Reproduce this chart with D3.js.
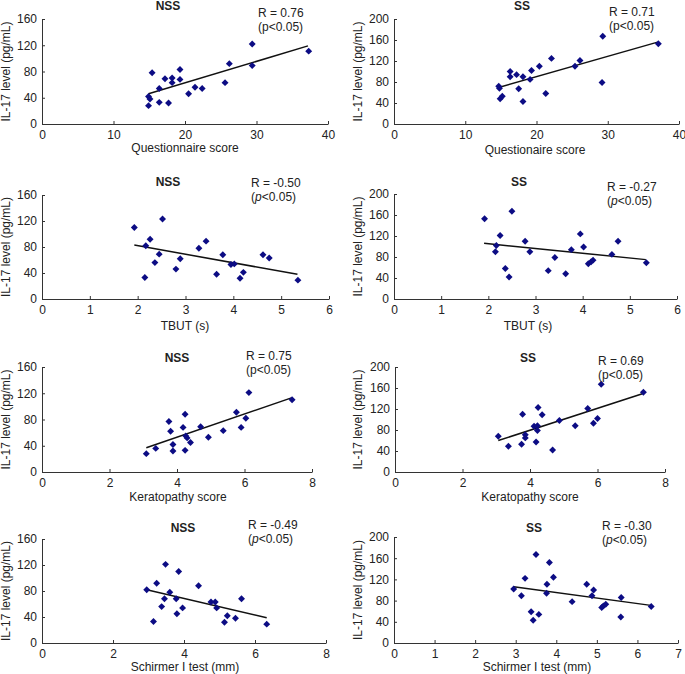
<!DOCTYPE html>
<html><head><meta charset="utf-8">
<script src="https://cdnjs.cloudflare.com/ajax/libs/d3/7.8.5/d3.min.js"></script>
<style>body{margin:0;background:#fff;} svg{display:block;} text{font-family:"Liberation Sans",Arial,sans-serif;fill:#222;}</style>
</head><body>
<svg id="chart" width="685" height="674"></svg>
<script>
// ---- Data ----
const nssQuestX = [15.4,14.9,15.1,14.9,16.4,16.4,17.2,17.7,18.2,18.2,19.3,19.3,20.5,21.4,22.4,25.6,26.2,29.4,29.4,37.3];
const nssQuestY = [78,42,38,28,54,33,69,32,70,63,83,68,46,56,54,63,92,122,89,111];
const nssQuestFit = [[14.9,46],[37.2,119]];

const ssQuestX = [14.7,14.8,14.9,15.2,16.3,16.3,17.2,17.5,18.1,18.1,19.3,19.1,20.4,21.3,22.1,25.4,26.1,29.3,29.2,37.1];
const ssQuestY = [72,68,48,53,100,90,94,67,90,43,102,85,110,58,125,110,121,167,79,153];
const ssQuestFit = [[14.8,70],[37.0,156]];

const nssTbutX = [1.93,2.17,2.15,2.26,2.36,2.45,2.52,2.80,2.89,3.28,3.43,3.65,3.78,3.95,4.02,4.14,4.21,4.62,4.75,5.35];
const nssTbutY = [110,82,33,92,56,69,123,46,62,78,89,38,68,53,54,32,41,68,63,29];
const nssTbutFit = [[1.93,83],[5.34,38]];

const ssTbutX = [1.92,2.15,2.17,2.25,2.36,2.44,2.50,2.78,2.88,3.27,3.41,3.64,3.76,3.95,4.02,4.12,4.18,4.22,4.62,4.75,5.35];
const ssTbutY = [153,90,102,121,58,42,167,110,90,54,79,48,94,124,99,67,71,74,85,110,69];
const ssTbutFit = [[1.91,106],[5.34,75]];

const nssKeratX = [3.09,3.37,3.76,3.81,3.88,3.88,4.18,4.24,4.24,4.26,4.30,4.40,4.70,4.93,5.37,5.76,5.90,6.04,6.13,7.41];
const nssKeratY = [28,36,77,62,42,32,68,88,33,55,52,45,69,53,63,91,68,82,121,110];
const nssKeratFit = [[3.09,37],[7.39,113]];

const ssKeratX = [3.06,3.36,3.75,3.78,3.86,3.86,4.12,4.18,4.22,4.22,4.24,4.36,4.67,4.87,5.34,5.71,5.88,6.00,6.11,7.36];
const ssKeratY = [68,49,53,110,71,65,87,57,79,88,123,109,42,98,88,121,93,102,167,152];
const ssKeratFit = [[3.06,60],[7.33,149]];

const nssSchX = [2.95,3.14,3.23,3.37,3.45,3.48,3.60,3.78,3.80,3.85,3.96,4.41,4.76,4.88,4.92,5.14,5.22,5.45,5.62,6.33];
const nssSchY = [82,33,92,56,68,121,78,68,45,110,54,88,63,63,54,32,42,38,68,29];
const nssSchFit = [[2.95,82],[6.33,39]];

const ssSchX = [2.95,3.14,3.23,3.38,3.43,3.50,3.57,3.76,3.77,3.83,3.93,4.39,4.75,4.88,4.92,5.12,5.16,5.22,5.59,5.60,6.34];
const ssSchY = [102,89,122,59,43,167,54,94,111,152,124,78,111,89,100,67,70,73,49,86,69];
const ssSchFit = [[2.95,106],[6.33,71]];

const groupTitles = ["NSS","SS"];
const rLabels = ["R = 0.76","R = 0.71","R = -0.50","R = -0.27","R = 0.75","R = 0.69","R = -0.49","R = -0.30"];
const xLabels = ["Questionnaire score","Questionaire score","TBUT (s)","TBUT (s)","Keratopathy score","Keratopathy score","Schirmer I test (mm)","Schirmer I test (mm)"];
const yLabel = "IL-17 level (pg/mL)";
const xDomains = [[0,40],[0,40],[0,6],[0,6],[0,8],[0,8],[0,8],[0,7]];
const xTickVals = [[0,10,20,30,40],[0,10,20,30,40],[0,1,2,3,4,5,6],[0,1,2,3,4,5,6],[0,2,4,6,8],[0,2,4,6,8],[0,2,4,6,8],[0,1,2,3,4,5,6,7]];
const yDomains = [[0,160],[0,200],[0,160],[0,200],[0,160],[0,200],[0,160],[0,200]];
const yTickVals = [[0,40,80,120,160],[0,40,80,120,160,200],[0,40,80,120,160],[0,40,80,120,160,200],[0,40,80,120,160],[0,40,80,120,160,200],[0,40,80,120,160],[0,40,80,120,160,200]];
const pItalic = [false,false,true,true,false,false,true,true];

// ---- Layout ----
const panels = [
  {x:nssQuestX,y:nssQuestY,fit:nssQuestFit, box:[42,328,19,124], title:[168,6], r:[258,13], xl:[185,148], yl:6},
  {x:ssQuestX,y:ssQuestY,fit:ssQuestFit,   box:[394,679,19,124], title:[522,6], r:[609,12], xl:[535,150], yl:358},
  {x:nssTbutX,y:nssTbutY,fit:nssTbutFit,   box:[42,329,195,299], title:[168,182], r:[251,183], xl:[185,326], yl:6},
  {x:ssTbutX,y:ssTbutY,fit:ssTbutFit,      box:[394,677,194,299], title:[519,182], r:[607,187], xl:[528,326], yl:358},
  {x:nssKeratX,y:nssKeratY,fit:nssKeratFit,box:[42,312,367,472], title:[177,358], r:[246,356], xl:[178,497], yl:6},
  {x:ssKeratX,y:ssKeratY,fit:ssKeratFit,   box:[395,665,367,472], title:[528,358], r:[598,361], xl:[530,497], yl:358},
  {x:nssSchX,y:nssSchY,fit:nssSchFit,      box:[42,326,539,643], title:[183,528], r:[248,525], xl:[185,667], yl:6},
  {x:ssSchX,y:ssSchY,fit:ssSchFit,         box:[394,678,537,643], title:[534,528], r:[602,526], xl:[537,667], yl:358}
];

const svg = d3.select("#chart");
const navy = "#0c0c84";
const diamond = d3.symbol().type(d3.symbolSquare).size(24);

panels.forEach((p,i)=>{
  const [x0,x1,y0,y1] = p.box;
  const xs = d3.scaleLinear().domain(xDomains[i]).range([x0,x1]);
  const ys = d3.scaleLinear().domain(yDomains[i]).range([y1,y0]);
  const g = svg.append("g");

  const xa = g.append("g").attr("transform",`translate(0,${y1})`)
    .call(d3.axisBottom(xs).tickValues(xTickVals[i]).tickFormat(d3.format("d")).tickSizeInner(-3).tickSizeOuter(0).tickPadding(6));
  const ya = g.append("g").attr("transform",`translate(${x0},0)`)
    .call(d3.axisLeft(ys).tickValues(yTickVals[i]).tickFormat(d3.format("d")).tickSizeInner(-3).tickSizeOuter(0).tickPadding(5));
  [xa,ya].forEach(a=>{
    a.selectAll("path").attr("stroke","#333").attr("stroke-width",1);
    a.selectAll("line").attr("stroke","#333");
    a.selectAll("text").attr("font-size",12).attr("fill","#222").style("font-family","Liberation Sans, Arial, sans-serif");
  });

  // fit line
  g.append("line")
    .attr("x1",xs(p.fit[0][0])).attr("y1",ys(p.fit[0][1]))
    .attr("x2",xs(p.fit[1][0])).attr("y2",ys(p.fit[1][1]))
    .attr("stroke","#111").attr("stroke-width",1.5);

  // points (diamonds)
  g.selectAll("path.pt").data(p.x.map((v,k)=>[v,p.y[k]])).enter().append("path")
    .attr("class","pt")
    .attr("d",diamond)
    .attr("transform",d=>`translate(${xs(d[0])},${ys(d[1])}) rotate(45)`)
    .attr("fill",navy);

  // title
  g.append("text").attr("x",p.title[0]).attr("y",p.title[1]).attr("dy","0.35em")
    .attr("text-anchor","middle").attr("font-size",12).attr("font-weight","bold")
    .text(groupTitles[i%2]);
  // R
  g.append("text").attr("x",p.r[0]).attr("y",p.r[1]).attr("dy","0.35em")
    .attr("font-size",12).text(rLabels[i]);
  const pt = g.append("text").attr("x",p.r[0]).attr("y",p.r[1]+14).attr("dy","0.35em").attr("font-size",12);
  pt.append("tspan").text("(");
  pt.append("tspan").attr("font-style",pItalic[i]?"italic":"normal").text("p");
  pt.append("tspan").text("<0.05)");
  // x label
  g.append("text").attr("x",p.xl[0]).attr("y",p.xl[1]).attr("dy","0.35em")
    .attr("text-anchor","middle").attr("font-size",12).text(xLabels[i]);
  // y label
  g.append("text").attr("transform",`translate(${p.yl},${(y0+y1)/2}) rotate(-90)`).attr("dy","0.35em")
    .attr("text-anchor","middle").attr("font-size",12).text(yLabel);
});
</script>
</body></html>
